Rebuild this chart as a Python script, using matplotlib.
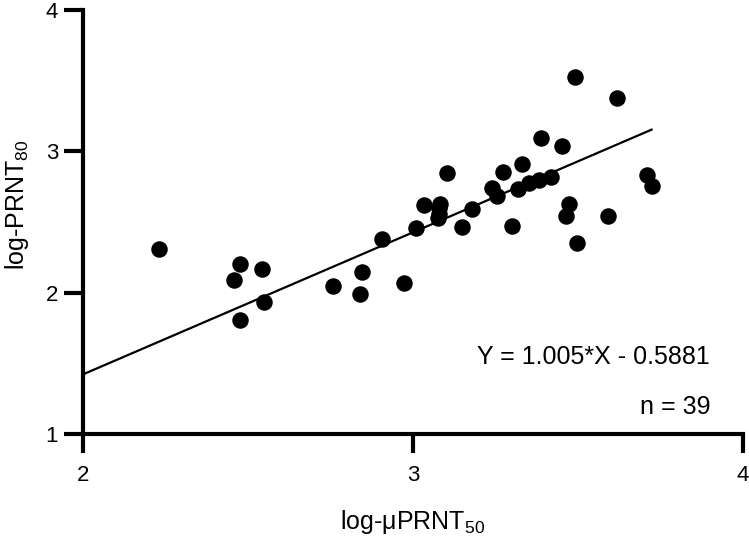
import matplotlib
matplotlib.use("Agg")
import matplotlib.pyplot as plt

plt.rcParams['font.family'] = ['Liberation Sans', 'DejaVu Sans']
plt.rcParams['mathtext.fontset'] = 'custom'
plt.rcParams['mathtext.rm'] = 'Liberation Sans'

# data
log_uprnt50 = [2.23, 2.459, 2.476, 2.476, 2.541, 2.548, 2.759, 2.845, 2.839, 2.905,
               2.973, 3.010, 3.033, 3.082, 3.077, 3.102, 3.147, 3.178, 3.238, 3.256,
               3.272, 3.301, 3.317, 3.331, 3.352, 3.383, 3.388, 3.418, 3.451, 3.473,
               3.463, 3.491, 3.496, 3.590, 3.617, 3.708, 3.723, 3.080, 3.08]
log_prnt80 = [2.31, 2.090, 2.201, 1.807, 2.168, 1.932, 2.047, 2.144, 1.991, 2.378,
              2.066, 2.456, 2.621, 2.628, 2.527, 2.849, 2.467, 2.592, 2.743, 2.687,
              2.856, 2.474, 2.732, 2.909, 2.779, 2.798, 3.093, 2.821, 3.038, 2.628,
              2.543, 3.529, 2.354, 2.543, 3.376, 2.833, 2.755, 2.56, 2.60]

slope = 1.005
intercept = -0.5881
x_ticks = [2, 3, 4]
y_ticks = [1, 2, 3, 4]

fig = plt.figure(figsize=(7.49, 5.37), dpi=100)
ax = fig.add_axes([83 / 749, 1 - 434 / 537, 660 / 749, 424 / 537])

ax.scatter(log_uprnt50, log_prnt80, s=118, color='black', zorder=3, clip_on=False)

# fitted line from the axis start to the largest x
x_line = [2, max(log_uprnt50)]
y_line = [slope * x + intercept for x in x_line]
ax.plot(x_line, y_line, color='black', lw=1.6, zorder=2)

ax.set_xlim(2, 4)
ax.set_ylim(1, 4)
ax.set_xticks(x_ticks)
ax.set_yticks(y_ticks)
for s in ['top', 'right']:
    ax.spines[s].set_visible(False)
for s in ['left', 'bottom']:
    ax.spines[s].set_linewidth(3)
    ax.spines[s].set_capstyle('projecting')
ax.tick_params(width=3, length=14, labelsize=16)
ax.tick_params(axis='x', pad=8)
ax.tick_params(axis='y', pad=4)

fig.text(710 / 749, 1 - 357 / 537, 'Y = 1.005*X - 0.5881', ha='right', va='center', fontsize=18)
fig.text(710 / 749, 1 - 407 / 537, 'n = 39', ha='right', va='center', fontsize=18)

fig.text(413 / 749, 1 - 522 / 537, r'log-μPRNT$_{\mathregular{50}}$', ha='center', va='center', fontsize=18)
fig.text(17 / 749, 1 - 205 / 537, r'log-PRNT$_{\mathregular{80}}$', ha='center', va='center',
         rotation=90, fontsize=18)

fig.savefig('out.png', dpi=100)
